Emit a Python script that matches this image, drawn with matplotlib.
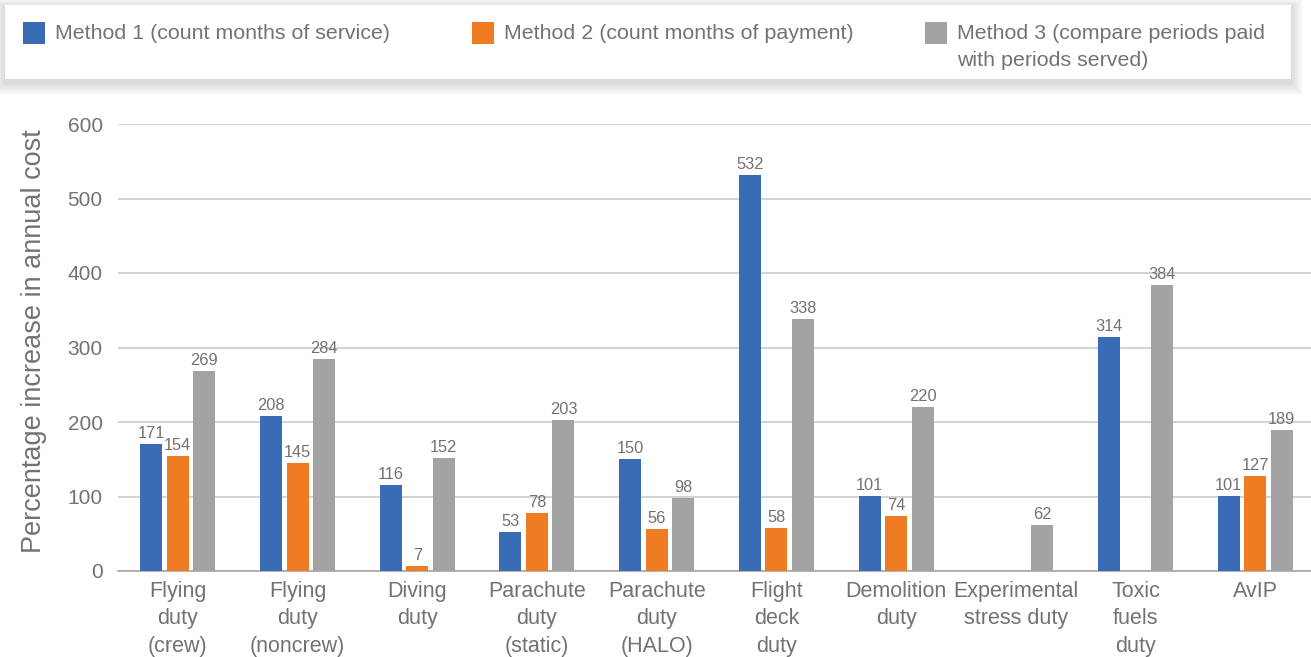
import matplotlib.pyplot as plt
from matplotlib.patches import Rectangle
import numpy as np

plt.rcParams['font.family'] = ['Liberation Sans', 'DejaVu Sans']

categories = ['Flying\nduty\n(crew)', 'Flying\nduty\n(noncrew)', 'Diving\nduty',
              'Parachute\nduty\n(static)', 'Parachute\nduty\n(HALO)', 'Flight\ndeck\nduty',
              'Demolition\nduty', 'Experimental\nstress duty', 'Toxic\nfuels\nduty', 'AvIP']
method1 = [171, 208, 116, 53, 150, 532, 101, None, 314, 101]
method2 = [154, 145, 7, 78, 56, 58, 74, None, None, 127]
method3 = [269, 284, 152, 203, 98, 338, 220, 62, 384, 189]
labels = ['Method 1 (count months of service)',
          'Method 2 (count months of payment)',
          'Method 3 (compare periods paid\nwith periods served)']
colors = ['#3a6bb5', '#ef7b22', '#a3a3a3']

W, H = 1311, 657
txt = '#767171'
fig = plt.figure(figsize=(W / 100, H / 100), dpi=100)
ax = fig.add_axes([118 / W, 1 - 571 / H, (W - 118) / W, (571 - 124) / H])

x = np.arange(len(categories))
bw = 0.184
step = 0.2215
for i, (series, col) in enumerate(zip([method1, method2, method3], colors)):
    for xi, v in zip(x, series):
        if v is None:
            continue
        xc = xi + (i - 1) * step
        ax.bar(xc, v, width=bw, color=col, zorder=3)
        ax.text(xc, v + 4, str(v), ha='center', va='bottom', fontsize=11.8, color=txt, zorder=4)

ax.set_ylim(0, 600)
ax.set_xlim(-0.5, -0.5 + (W - 118) / 119.7)
ax.set_yticks(range(0, 601, 100))
ax.yaxis.grid(True, color='#c6c6c6', linewidth=1.1, zorder=0)
ax.set_axisbelow(True)
for s in ['left', 'right', 'top']:
    ax.spines[s].set_visible(False)
ax.spines['bottom'].set_color('#a6a6a6')
ax.spines['bottom'].set_linewidth(1.2)
ax.tick_params(axis='y', length=0, labelsize=15, labelcolor=txt, pad=11)
ax.tick_params(axis='x', length=0, labelsize=15.5, labelcolor=txt, pad=7)
ax.set_xticks(x)
ax.set_xticklabels(categories, linespacing=1.42, va='top')
ax.set_ylabel('Percentage increase in annual cost', fontsize=19.5, color=txt)
ax.yaxis.set_label_coords((47 - 118) / (W - 118), (571 - 341) / (571 - 124))

# legend box with soft shadow
for k in range(12, 0, -1):
    fig.patches.append(Rectangle(((5 - k) / W, 1 - (83 + k) / H), (1286 + 2 * k) / W, (74 + 2 * k) / H,
                                 transform=fig.transFigure, facecolor='black', alpha=0.012,
                                 edgecolor='none', zorder=0))
fig.patches.append(Rectangle((5 / W, 1 - 79 / H), 1286 / W, 74 / H, transform=fig.transFigure,
                             facecolor='white', edgecolor='none', zorder=1))
leg_x = [23, 472, 925]
for lx, lab, col in zip(leg_x, labels, colors):
    fig.patches.append(Rectangle((lx / W, 1 - 44 / H), 22 / W, 22 / H, transform=fig.transFigure,
                                 facecolor=col, edgecolor='none', zorder=2))
    fig.text((lx + 32) / W, 1 - 24 / H, lab, ha='left', va='top', fontsize=15.4,
             color=txt, linespacing=1.5, zorder=3)

fig.savefig('out.png', dpi=100)
